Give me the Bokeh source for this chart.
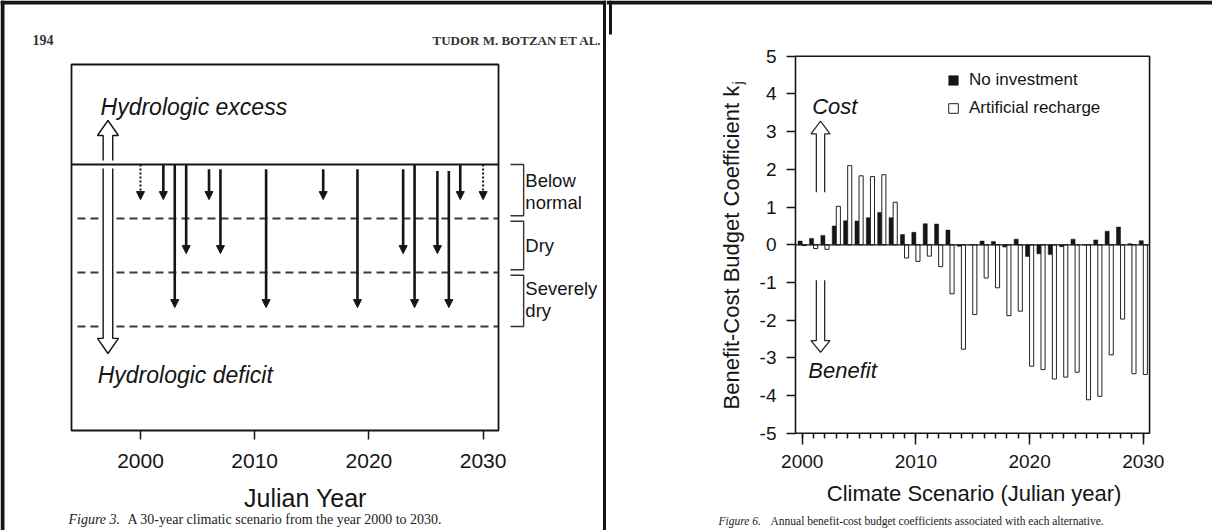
from math import pi
from bokeh.plotting import figure
from bokeh.models import (Range1d, FixedTicker, Label, Arrow, NormalHead, BoxAnnotation,
                          Legend, LegendItem, ColumnDataSource)
from bokeh.layouts import row
from bokeh.transform import dodge
from bokeh.core.properties import value
from bokeh.embed import file_html
from bokeh.resources import INLINE

SANS = "Liberation Sans"
SERIF = "Liberation Serif"
INK = "#151515"

# ---------------- data: Figure 3 (30-year climatic scenario) ----------------
drought_years = [2000, 2002, 2003, 2004, 2006, 2007, 2011, 2016, 2019, 2023, 2024, 2026, 2027, 2028, 2030]
drought_level = [1, 1, 3, 2, 1, 2, 3, 1, 3, 2, 3, 2, 3, 1, 1]      # 1 below normal, 2 dry, 3 severely dry
drought_dotted = [True, False, False, False, False, False, False, False, False, False, False, False, False, False, True]
drought_start = [0, 0, 0, 0, -0.09, -0.09, -0.09, -0.09, -0.09, -0.09, 0, -0.12, -0.12, 0, 0]
band_names = ["Below\nnormal", "Dry", "Severely\ndry"]
band_levels = [1, 2, 3]
left_ticks = [2000, 2010, 2020, 2030]

# ---------------- data: Figure 6 (benefit-cost budget coefficients) ----------------
years = list(range(2000, 2031))
no_investment = [0.10, 0.17, 0.25, 0.50, 0.64, 0.63, 0.72, 0.86, 0.72, 0.27, 0.33, 0.56, 0.55, 0.39,
                 -0.04, 0.00, 0.10, 0.09, -0.06, 0.15, -0.31, -0.24, -0.26, -0.05, 0.15, 0.00, 0.13,
                 0.36, 0.47, 0.03, 0.11]
artificial_recharge = [-0.02, -0.10, -0.12, 1.02, 2.10, 1.83, 1.81, 1.86, 1.13, -0.35, -0.44, -0.30,
                       -0.58, -1.30, -2.77, -1.85, -0.88, -1.14, -1.88, -1.76, -3.22, -3.31, -3.56,
                       -3.51, -3.38, -4.11, -4.02, -2.92, -1.97, -3.42, -3.44]
right_xticks = [2000, 2010, 2020, 2030]
right_yticks = [-5, -4, -3, -2, -1, 0, 1, 2, 3, 4, 5]

W, H = 606, 530


def base_figure(xr, yr):
    p = figure(width=W, height=H, x_range=Range1d(*xr), y_range=Range1d(*yr),
               output_backend="svg", toolbar_location=None,
               min_border_left=0, min_border_right=0, min_border_top=0, min_border_bottom=0)
    p.outline_line_color = None
    p.grid.visible = False
    p.background_fill_color = "white"
    p.border_fill_color = "white"
    return p


def style_axis(a, size):
    a.axis_line_color = None
    a.major_tick_in = 0
    a.minor_tick_in = 0
    a.major_tick_line_color = INK
    a.major_tick_line_width = 1.5
    a.minor_tick_line_color = INK
    a.minor_tick_line_width = 1.5
    a.major_label_text_font = SANS
    a.major_label_text_font_size = size
    a.major_label_text_color = INK


def screen_label(p, x, y, text, size, font=SANS, style="normal", align="left", color=INK, angle=0.0):
    p.add_layout(Label(x=x, y=y, x_units="screen", y_units="screen", text=text, angle=angle,
                       text_font=font, text_font_size=size, text_font_style=style,
                       text_color=color, text_align=align, text_baseline="alphabetic"))


# ======================= LEFT PANEL =======================
LXR = (1987.741, 2040.806)
LYR = (-6.7778, 3.037)
L_BOX = dict(left=1993.958, right=2031.35, bottom=-4.926, top=1.852)
left = base_figure(LXR, LYR)
ax = left.xaxis[0]
ax.fixed_location = L_BOX["bottom"]
ax.ticker = FixedTicker(ticks=left_ticks)
style_axis(ax, "21px")
ax.major_tick_out = 9
ax.minor_tick_out = 0
ax.major_label_standoff = 14
left.yaxis.visible = False

left.add_layout(BoxAnnotation(**L_BOX, fill_alpha=0, line_color=INK, line_alpha=1, line_width=1.8))
# normal line and dashed class boundaries
left.segment(x0=L_BOX["left"], x1=L_BOX["right"], y0=0, y1=0, line_color=INK, line_width=2)
left.segment(x0=[1994.48] * 3, x1=[L_BOX["right"]] * 3, y0=[-k for k in band_levels],
             y1=[-k for k in band_levels], line_color="#3a3a3a", line_width=2, line_dash="8 5")

# hollow double arrow (excess / deficit)
HX, HS, HH = 1997.15, 0.42, 0.92
hx = [HX - HS, HX - HS, HX - HH, HX, HX + HH, HX + HS, HX + HS]
for ys in ([0.074, 0.537, 0.537, 0.815, 0.537, 0.537, 0.074],
           [-0.074, -3.22, -3.22, -3.5, -3.22, -3.22, -0.074]):
    left.patch(hx, ys, fill_color="white", line_color=None)
    left.line(hx, ys, line_color=INK, line_width=1.4)

# class brackets and labels
BR0, BR1 = 2032.4, 2033.55
br_xs, br_ys = [], []
for k in band_levels:
    top = -(k - 1) - (0.0 if k == 1 else 0.05)
    bot = -k + (0.05 if k < 3 else 0.0)
    br_xs.append([BR0, BR1, BR1, BR0])
    br_ys.append([top, top, bot, bot])
left.multi_line(br_xs, br_ys, line_color="#333333", line_width=1.4)
left.text(x=[2033.7] * 3, y=[-(k - 0.5) for k in band_levels], text=band_names,
          text_font=value(SANS), text_font_size="18.5px", text_color=INK,
          text_baseline="middle", text_align="left", text_line_height=1.05)

# drought arrows
solid = dict(x=[], y0=[], y1=[])
dotted = dict(x=[], y0=[], y1=[])
for yr, lv, dt, st in zip(drought_years, drought_level, drought_dotted, drought_start):
    d = dotted if dt else solid
    d["x"].append(yr)
    d["y0"].append(st)
    d["y1"].append(-(lv - 0.35))
left.add_layout(Arrow(end=NormalHead(size=8, fill_color=INK, line_color=INK, line_width=1),
                      x_start="x", y_start="y0", x_end="x", y_end="y1",
                      source=ColumnDataSource(solid), line_color=INK, line_width=2.6))
left.add_layout(Arrow(end=NormalHead(size=8, fill_color=INK, line_color=INK, line_width=1),
                      x_start="x", y_start="y0", x_end="x", y_end="y1",
                      source=ColumnDataSource(dotted), line_color=INK, line_width=2, line_dash="2 2"))

# scan borders: top, left edge and the divider between the two pages
left.segment(x0=LXR[0], x1=LXR[1], y0=3.0, y1=3.0, line_color=INK, line_width=4)
left.segment(x0=1987.916, x1=1987.916, y0=LYR[0], y1=LYR[1], line_color=INK, line_width=4)
left.segment(x0=2040.63, x1=2040.63, y0=LYR[0], y1=LYR[1], line_color=INK, line_width=3)

# texts
left.add_layout(Label(x=1996.5, y=1.063, text="Hydrologic excess", text_font=SANS,
                      text_font_size="23px", text_font_style="italic", text_color=INK,
                      text_baseline="alphabetic"))
left.add_layout(Label(x=1996.25, y=-3.903, text="Hydrologic deficit", text_font=SANS,
                      text_font_size="23px", text_font_style="italic", text_color=INK,
                      text_baseline="alphabetic"))
screen_label(left, 305, 33, "Julian Year", "25px", align="center")
screen_label(left, 32, 490.5, "194", "14px", font=SERIF, style="bold", color="#333333")
screen_label(left, 601, 490, "TUDOR M. BOTZAN ET AL.", "13px", font=SERIF, style="bold",
             align="right", color="#333333")
screen_label(left, 68, 11, "Figure 3.", "14px", font=SERIF, style="italic", color="#222222")
screen_label(left, 127, 11, "A 30-year climatic scenario from the year 2000 to 2030.", "14px",
             font=SERIF, color="#222222")

# ======================= RIGHT PANEL =======================
RXR = (1982.788, 2036.086)
RYR = (-7.578, 6.480)
R_BOX = dict(left=1999.41, right=2030.55, bottom=-5, top=5)
right = base_figure(RXR, RYR)

xa = right.xaxis[0]
xa.fixed_location = R_BOX["bottom"]
xa.ticker = FixedTicker(ticks=right_xticks, minor_ticks=years)
style_axis(xa, "19px")
xa.major_tick_out = 11
xa.minor_tick_out = 5
xa.major_label_standoff = 11
ya = right.yaxis[0]
ya.fixed_location = R_BOX["left"]
ya.ticker = FixedTicker(ticks=right_yticks)
style_axis(ya, "19px")
ya.major_tick_out = 9
ya.minor_tick_out = 0
ya.major_label_standoff = 10
ya.major_label_overrides = {v: str(v) for v in right_yticks}

right.add_layout(BoxAnnotation(**R_BOX, fill_alpha=0, line_color=INK, line_alpha=1, line_width=1.6))

src = ColumnDataSource(dict(year=years, ni=no_investment, ar=artificial_recharge))
r_ni = right.vbar(x=dodge("year", -0.18), top="ni", bottom=0, width=0.36, source=src,
                  fill_color=INK, line_color=INK, line_width=0.5)
r_ar = right.vbar(x=dodge("year", 0.18), top="ar", bottom=0, width=0.36, source=src,
                  fill_color="white", line_color="#222222", line_width=1)
right.segment(x0=R_BOX["left"], x1=R_BOX["right"], y0=0, y1=0, line_color=INK, line_width=1.2)

legend = Legend(items=[LegendItem(label="No investment", renderers=[r_ni]),
                       LegendItem(label="Artificial recharge", renderers=[r_ar])],
                location=(341, 412), orientation="vertical", padding=0, margin=0, spacing=8,
                glyph_width=12, glyph_height=12, label_standoff=10, label_height=20,
                label_text_font=SANS, label_text_font_size="17px", label_text_color=INK,
                border_line_color=None, background_fill_alpha=0)
right.add_layout(legend)

# cost / benefit hollow arrows
AX, AS, AH = 2001.61, 0.365, 0.835
arr_x = [AX - AS, AX - AS, AX - AH, AX, AX + AH, AX + AS, AX + AS]
right.line(arr_x, [1.395, 2.94, 2.94, 3.28, 2.94, 2.94, 1.395], line_color="#2a2a2a", line_width=1.3)
right.line(arr_x, [-0.94, -2.54, -2.54, -2.85, -2.54, -2.54, -0.94], line_color="#2a2a2a", line_width=1.3)
right.add_layout(Label(x=2000.88, y=3.667, text="Cost", text_font=SANS, text_font_size="22px",
                       text_font_style="italic", text_color=INK, text_baseline="alphabetic"))
right.add_layout(Label(x=2000.54, y=-3.323, text="Benefit", text_font=SANS, text_font_size="22px",
                       text_font_style="italic", text_color=INK, text_baseline="alphabetic"))

# scan borders: top edge and the left border stub of the right page
right.segment(x0=RXR[0], x1=RXR[1], y0=6.427, y1=6.427, line_color=INK, line_width=4)
right.segment(x0=1983.14, x1=1983.14, y0=5.578, y1=RYR[1], line_color=INK, line_width=3)

# axis titles
screen_label(right, 367.6, 37, "Climate Scenario (Julian year)", "22px", align="center")
screen_label(right, 125, 121, "Benefit-Cost Budget Coefficient k", "22px", angle=pi / 2)
screen_label(right, 131, 446, "j", "15px", angle=pi / 2)
# caption
screen_label(right, 112, 10, "Figure 6.", "11.5px", font=SERIF, style="italic", color="#222222")
screen_label(right, 164, 10, "Annual benefit-cost budget coefficients associated with each alternative.",
             "11.5px", font=SERIF, color="#222222")

layout = row(left, right)
open("out.html", "w").write(file_html(layout, INLINE))
